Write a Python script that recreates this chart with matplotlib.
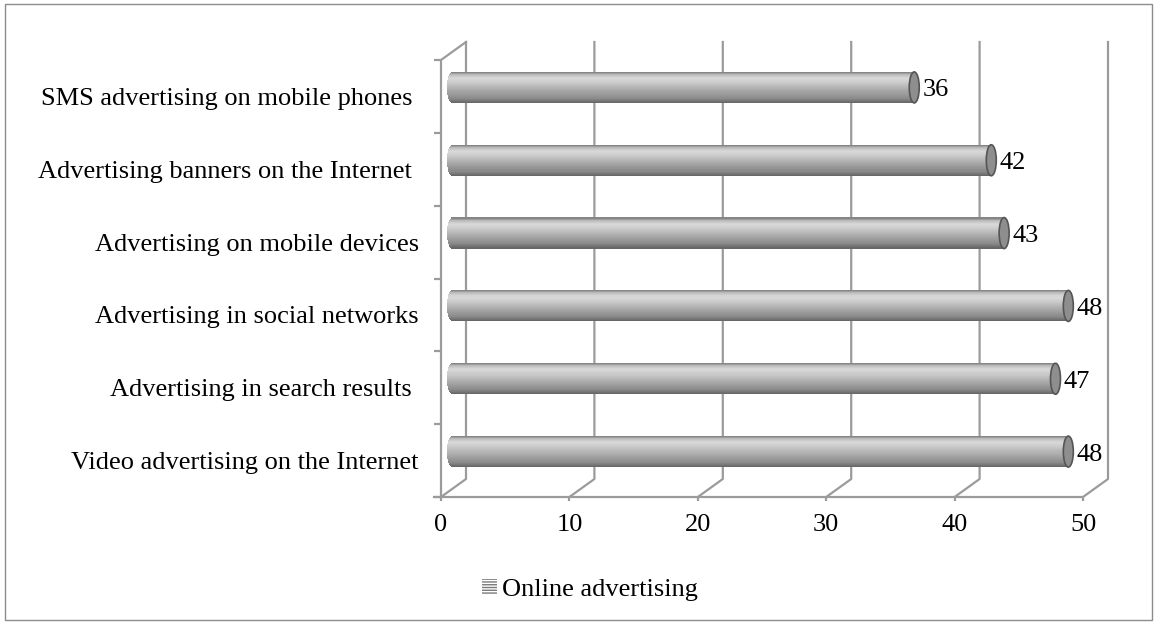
import numpy as np
import matplotlib.pyplot as plt
from matplotlib.patches import Ellipse, Rectangle, Patch
from matplotlib.colors import LinearSegmentedColormap
from matplotlib.transforms import Affine2D

plt.rcParams['font.family'] = ['Liberation Serif', 'DejaVu Serif']
plt.rcParams['hatch.linewidth'] = 1.0

# data (bottom to top)
categories = ["Video advertising on the Internet",
              "Advertising in search results ",
              "Advertising in social networks",
              "Advertising on mobile devices",
              "Advertising banners on the Internet ",
              "SMS advertising on mobile phones "]
values = [48, 47, 48, 43, 42, 36]
x_ticks = [0, 10, 20, 30, 40, 50]
series_name = "Online advertising"

W, H = 1158, 624
fig = plt.figure(figsize=(W / 100, H / 100), dpi=100)
ax = fig.add_axes([441 / W, 1 - 497 / H, 642 / W, 437 / H])
ax.set_xlim(0, 50)
ax.set_ylim(-0.5, len(categories) - 0.5)
for s in ax.spines.values():
    s.set_visible(False)

# depth of the fake 3D box, in pixels
DX, DY = 25, 18
px_x = 642 / 50
px_y = 437 / len(categories)
dxd, dyd = DX / px_x, DY / px_y
grid = '#9b9b9b'
lw = 1.6
top = len(categories) - 0.5

# back wall gridlines with floor diagonals
for t in x_ticks:
    ax.plot([t, t + dxd, t + dxd], [-0.5, -0.5 + dyd, top + dyd],
            color=grid, lw=lw, clip_on=False, zorder=1)
# left wall front edge + top diagonal
ax.plot([0, 0, dxd], [-0.5, top, top + dyd], color=grid, lw=lw, clip_on=False, zorder=1)
# front floor edge
ax.plot([-7 / px_x, 50], [-0.5, -0.5], color=grid, lw=lw, clip_on=False, zorder=1)

# ticks
ax.set_xticks(x_ticks)
ax.tick_params(axis='x', length=3, width=lw, color=grid, pad=9.5, labelsize=19)
ax.set_yticks(range(len(categories)))
ax.set_yticklabels(categories)
ax.set_yticks(np.arange(-0.5, len(categories), 1), minor=True)
ax.tick_params(axis='y', which='major', length=0, pad=16, labelsize=19)
ax.tick_params(axis='y', which='minor', length=5, width=lw, color=grid)

# cylinder bars, drawn at mid depth
mid = ax.transData + Affine2D().translate(11, DY / 2)
cmap = LinearSegmentedColormap.from_list('cyl', [
    (0.0, '#7a7a7a'), (0.08, '#b8b8b8'), (0.2, '#dadada'), (0.35, '#cbcbcb'),
    (0.6, '#a9a9a9'), (0.85, '#8a8a8a'), (1.0, '#646464')])
h = 31 / px_y
r = 5 / px_x
n = 30
ypos = np.arange(len(categories))
vals = np.array(values, dtype=float)
for k in range(n):
    t0, t1 = k / n, (k + 1) / n
    tc = (t0 + t1) / 2
    u = 2 * tc - 1
    left = -r * np.sqrt(1 - u * u)
    ax.barh(ypos + h / 2 - t1 * h, vals - left, height=h / n * 1.1, left=left,
            align='edge', color=cmap(tc), linewidth=0, transform=mid, zorder=3)
lab = mid + Affine2D().translate(0, -3)
for i, v in enumerate(values):
    ax.add_patch(Ellipse((v, i), 2 * r, h, transform=mid, facecolor='#8e8e8e',
                         edgecolor='#555555', lw=1.2, zorder=4))
    ax.text(v + r + 3 / px_x, i, str(v), transform=lab, ha='left', va='center',
            fontsize=19, zorder=5)

# legend
handle = Patch(facecolor='white', edgecolor='#7a7a7a', hatch='------', lw=0)
fig.legend([handle], [series_name], loc='center', bbox_to_anchor=(590 / W, 1 - 590 / H),
           frameon=False, fontsize=19, handlelength=0.57, handleheight=0.57,
           handletextpad=0.2)

# outer border
fig.add_artist(Rectangle((5 / W, 4 / H), 1147 / W, 616 / H, transform=fig.transFigure,
                         fill=False, ec='#8c8c8c', lw=1))

fig.savefig('out.png', dpi=100)
